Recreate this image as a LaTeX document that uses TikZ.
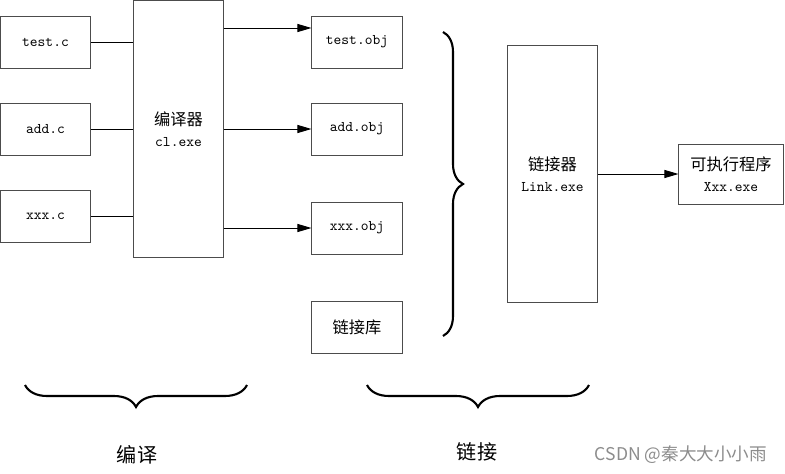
\documentclass[tikz,border=0pt]{standalone}
\usepackage{fontspec}
\newfontfamily\cjk[Scale=1.1]{Noto Sans CJK SC}
\newfontfamily\wmfont{Noto Sans CJK SC}
\usetikzlibrary{arrows.meta,decorations.pathreplacing,positioning}

\begin{document}
\begin{tikzpicture}[x=0.025cm,y=-0.025cm,>={Triangle[length=0.35cm,width=0.2cm]},
  font=\ttfamily\fontsize{10.5}{15}\selectfont,
  box/.style={draw=black!70,line width=0.7pt,minimum width=2.25cm,minimum height=1.3cm,inner sep=0pt,align=center},
  tallbox/.style={box,minimum width=2.225cm,minimum height=6.4cm},
  wire/.style={line width=0.7pt},
  bigbrace/.style={decorate,decoration={brace,amplitude=#1},line width=1.5pt}]
\useasboundingbox (0,0) rectangle (785,474);
% source files
\node[box] (tc) at (45.5,42) {test.c};
\node[box] (ac) at (45.5,129) {add.c};
\node[box] (xc) at (45.5,216) {xxx.c};
% compiler
\node[tallbox] (cl) at (178.5,129) {{\cjk 编译器}\\cl.exe};
\foreach \s in {tc,ac,xc}
  \draw[wire] (\s.east) -- (\s.east -| cl.west);
% object files
\node[box] (tobj) at (357,42) {test.obj};
\node[box] (aobj) at (357,129) {add.obj};
\node[box] (xobj) at (357,228) {xxx.obj};
\node[box] (lib) at (357,327) {\cjk 链接库};
\coordinate (t1) at ([yshift=0.35cm]tobj.west);
\draw[wire,->] (t1 -| cl.east) -- (t1);
\draw[wire,->] (aobj.west -| cl.east) -- (aobj.west);
\draw[wire,->] (xobj.west -| cl.east) -- (xobj.west);
% linker
\draw[bigbrace=0.5cm] (443,32) -- (443,336);
\node[tallbox] (lk) at (552.5,174) {{\cjk 链接器}\\Link.exe};
\node[box,minimum width=2.6cm,minimum height=1.5cm] (exe) at (731,174) {{\cjk 可执行程序}\\Xxx.exe};
\draw[wire,->] (lk.east) -- (exe.west);
% stages
\draw[bigbrace=0.55cm] (247,385) -- (25,385);
\draw[bigbrace=0.55cm] (589,385) -- (367,385);
\node[font=\cjk\fontsize{13}{13}\selectfont] (s1) at (137,455) {编译};
\node[font=\cjk\fontsize{13}{13}\selectfont] (s2) at (477,452) {链接};
\node[font=\wmfont\fontsize{12.5}{12.5}\selectfont,text=black!45,anchor=east] (wm) at (772,455) {CSDN @秦大大小小雨};
\end{tikzpicture}
\end{document}
